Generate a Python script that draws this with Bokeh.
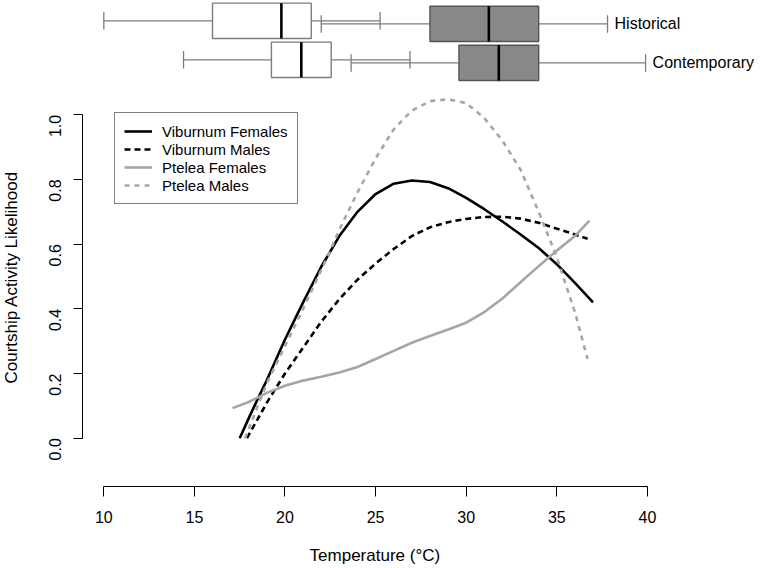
import math
from bokeh.plotting import figure
from bokeh.models import (Range1d, FixedTicker, Legend, LegendItem, Title,
                          ColumnDataSource, PrintfTickFormatter)
from bokeh.embed import file_html
from bokeh.resources import INLINE
from bokeh.core.properties import value

# ---------------- data ----------------
temp_vib_f = [17.5, 18, 18.5, 19, 20, 21, 22, 23, 24, 25, 26, 27, 28, 29, 30, 31, 32, 33, 34, 35, 36, 37]
like_vib_f = [0.0, 0.062, 0.122, 0.18, 0.305, 0.42, 0.53, 0.625, 0.70, 0.755, 0.787, 0.797, 0.792, 0.773,
              0.743, 0.708, 0.670, 0.630, 0.588, 0.538, 0.48, 0.42]

temp_vib_m = [17.9, 18.5, 19, 20, 21, 22, 23, 24, 25, 26, 27, 28, 29, 30, 31, 32, 33, 34, 35, 36, 36.7]
like_vib_m = [0.0, 0.06, 0.11, 0.20, 0.28, 0.36, 0.43, 0.49, 0.54, 0.585, 0.625, 0.652, 0.668, 0.678,
              0.684, 0.685, 0.679, 0.666, 0.648, 0.63, 0.617]

temp_pte_f = [17.1, 18, 19, 20, 21, 22, 23, 24, 25, 26, 27, 28, 29, 30, 31, 32, 33, 34, 35, 36, 36.8]
like_pte_f = [0.093, 0.112, 0.14, 0.162, 0.178, 0.19, 0.203, 0.22, 0.245, 0.27, 0.295, 0.316, 0.336,
              0.357, 0.39, 0.432, 0.482, 0.532, 0.58, 0.625, 0.673]

temp_pte_m = [17.8, 18.5, 19, 20, 21, 22, 22.5, 23, 24, 25, 26, 27, 28, 29, 30, 31, 32, 33, 34, 35, 36, 36.7]
like_pte_m = [0.0, 0.10, 0.17, 0.285, 0.40, 0.52, 0.58, 0.645, 0.76, 0.865, 0.955, 1.013, 1.042, 1.048,
              1.036, 0.99, 0.92, 0.83, 0.70, 0.56, 0.39, 0.245]

series_names = ["Viburnum Females", "Viburnum Males", "Ptelea Females", "Ptelea Males"]

box_rows = ["Historical", "Contemporary"]
light_min = [10.0, 14.4]
light_q1 = [16.0, 19.25]
light_med = [19.8, 20.9]
light_q3 = [21.45, 22.55]
light_max = [25.25, 26.9]
dark_min = [22.0, 23.65]
dark_q1 = [28.0, 29.6]
dark_med = [31.25, 31.8]
dark_q3 = [34.0, 34.0]
dark_max = [37.8, 39.9]

x_ticks = [10, 15, 20, 25, 30, 35, 40]
y_ticks = [0.0, 0.2, 0.4, 0.6, 0.8, 1.0]

x_label = "Temperature (°C)"
y_label = "Courtship Activity Likelihood"

# ---------------- layout / style ----------------
FONT = "Liberation Sans"
GRAY_LINE = "#a6a6a6"
BOX_H = 0.905
CAP_H = 0.45
DARK_OFF = -0.08
PX_PER_X = 18.12     # screen px per degree
PX_PER_Y = 323.4     # screen px per likelihood unit
X0, X1 = 8.8245, 46.518
Y0, Y1 = -0.1494, 1.3534

W, H = 765, 568
LEFT, BOTTOM = 82, 82

p = figure(width=W, height=H, output_backend="svg", toolbar_location=None,
           x_range=Range1d(X0, X1), y_range=Range1d(Y0, Y1),
           min_border_left=LEFT, min_border_right=0, min_border_top=0, min_border_bottom=BOTTOM)
p.extra_y_ranges = {"box": Range1d(-10.941, 1.5205)}
p.outline_line_color = None
p.grid.visible = False
p.background_fill_color = "white"
p.border_fill_color = "white"

# axes
xa = p.xaxis[0]
xa.bounds = (x_ticks[0], x_ticks[-1])
xa.ticker = FixedTicker(ticks=x_ticks)
ya = p.yaxis[0]
ya.bounds = (y_ticks[0], y_ticks[-1])
ya.ticker = FixedTicker(ticks=y_ticks)
ya.formatter = PrintfTickFormatter(format="%.1f")
ya.major_label_orientation = math.pi / 2
for ax in (xa, ya):
    ax.axis_line_color = "black"
    ax.axis_line_width = 1
    ax.major_tick_line_color = "black"
    ax.major_tick_in = 0
    ax.minor_tick_line_color = None
    ax.major_label_text_font = FONT
    ax.major_label_text_font_size = "16px"
    ax.major_label_text_color = "black"
xa.major_tick_out = 10
xa.major_label_standoff = 14
ya.major_tick_out = 9
ya.major_label_standoff = 18

# axis titles, positioned along the tick span like R does;
# padding on the side facing the frame pushes them outward
x_mid = (x_ticks[0] + x_ticks[-1]) / 2
y_mid = (y_ticks[0] + y_ticks[-1]) / 2
tx = Title(text=x_label, align="left", offset=(x_mid - X0) * PX_PER_X - 66, standoff=0,
           vertical_align="top", padding=dict(left=0, right=0, top=20, bottom=0),
           text_font=FONT, text_font_size="17px",
           text_font_style="normal", text_color="black")
p.add_layout(tx, "below")
ty = Title(text=y_label, align="left", offset=(y_mid - Y0) * PX_PER_Y - 107, standoff=0,
           vertical_align="bottom", padding=dict(left=0, right=0, top=0, bottom=20),
           text_font=FONT, text_font_size="17px",
           text_font_style="normal", text_color="black")
p.add_layout(ty, "left")

# curves
r_vf = p.line(temp_vib_f, like_vib_f, line_color="black", line_width=2.6)
r_vm = p.line(temp_vib_m, like_vib_m, line_color="black", line_width=2.6, line_dash="6 4")
r_pf = p.line(temp_pte_f, like_pte_f, line_color=GRAY_LINE, line_width=2.6)
r_pm = p.line(temp_pte_m, like_pte_m, line_color=GRAY_LINE, line_width=2.6, line_dash="5 5")

legend = Legend(items=[LegendItem(label=n, renderers=[r]) for n, r in
                       zip(series_names, [r_vf, r_vm, r_pf, r_pm])],
                location=(32, 282), border_line_color="black", border_line_width=1,
                background_fill_color="white", background_fill_alpha=1.0,
                padding=9, spacing=0, margin=0, glyph_width=28, glyph_height=18,
                label_height=18, label_standoff=10, label_text_font=FONT,
                label_text_font_size="15px", label_text_color="black")
p.add_layout(legend)

# box plots (rows: first item on top)
n = len(box_rows)
row_y = [n - 1 - i for i in range(n)]


def draw_box(mins, q1s, meds, q3s, maxs, off, fill, border, whisk):
    ys = [r + off for r in row_y]
    src = ColumnDataSource(dict(
        y=ys, lo=mins, q1=q1s, med=meds, q3=q3s, hi=maxs,
        cb=[v - CAP_H / 2 for v in ys], ct=[v + CAP_H / 2 for v in ys],
        bb=[v - BOX_H / 2 for v in ys], bt=[v + BOX_H / 2 for v in ys]))
    kw = dict(source=src, y_range_name="box")
    p.segment(x0="lo", y0="y", x1="q1", y1="y", line_color=whisk, line_width=1.3, **kw)
    p.segment(x0="q3", y0="y", x1="hi", y1="y", line_color=whisk, line_width=1.3, **kw)
    p.segment(x0="lo", y0="cb", x1="lo", y1="ct", line_color=whisk, line_width=1.3, **kw)
    p.segment(x0="hi", y0="cb", x1="hi", y1="ct", line_color=whisk, line_width=1.3, **kw)
    p.hbar(y="y", height=BOX_H, left="q1", right="q3", fill_color=fill,
           line_color=border, line_width=1.4, **kw)
    p.segment(x0="med", y0="bb", x1="med", y1="bt", line_color="black", line_width=2.6, **kw)
    return ys


draw_box(light_min, light_q1, light_med, light_q3, light_max, 0.0, "white", "#7d7d7d", "#7d7d7d")
dys = draw_box(dark_min, dark_q1, dark_med, dark_q3, dark_max, DARK_OFF, "#888888", "#555555", "#7d7d7d")

p.text(x=dark_max, y=dys, text=box_rows, x_offset=7, text_align="left", text_baseline="middle",
       text_font=value(FONT), text_font_size="16px", text_color="black", y_range_name="box")

open("out.html", "w").write(file_html(p, INLINE))
